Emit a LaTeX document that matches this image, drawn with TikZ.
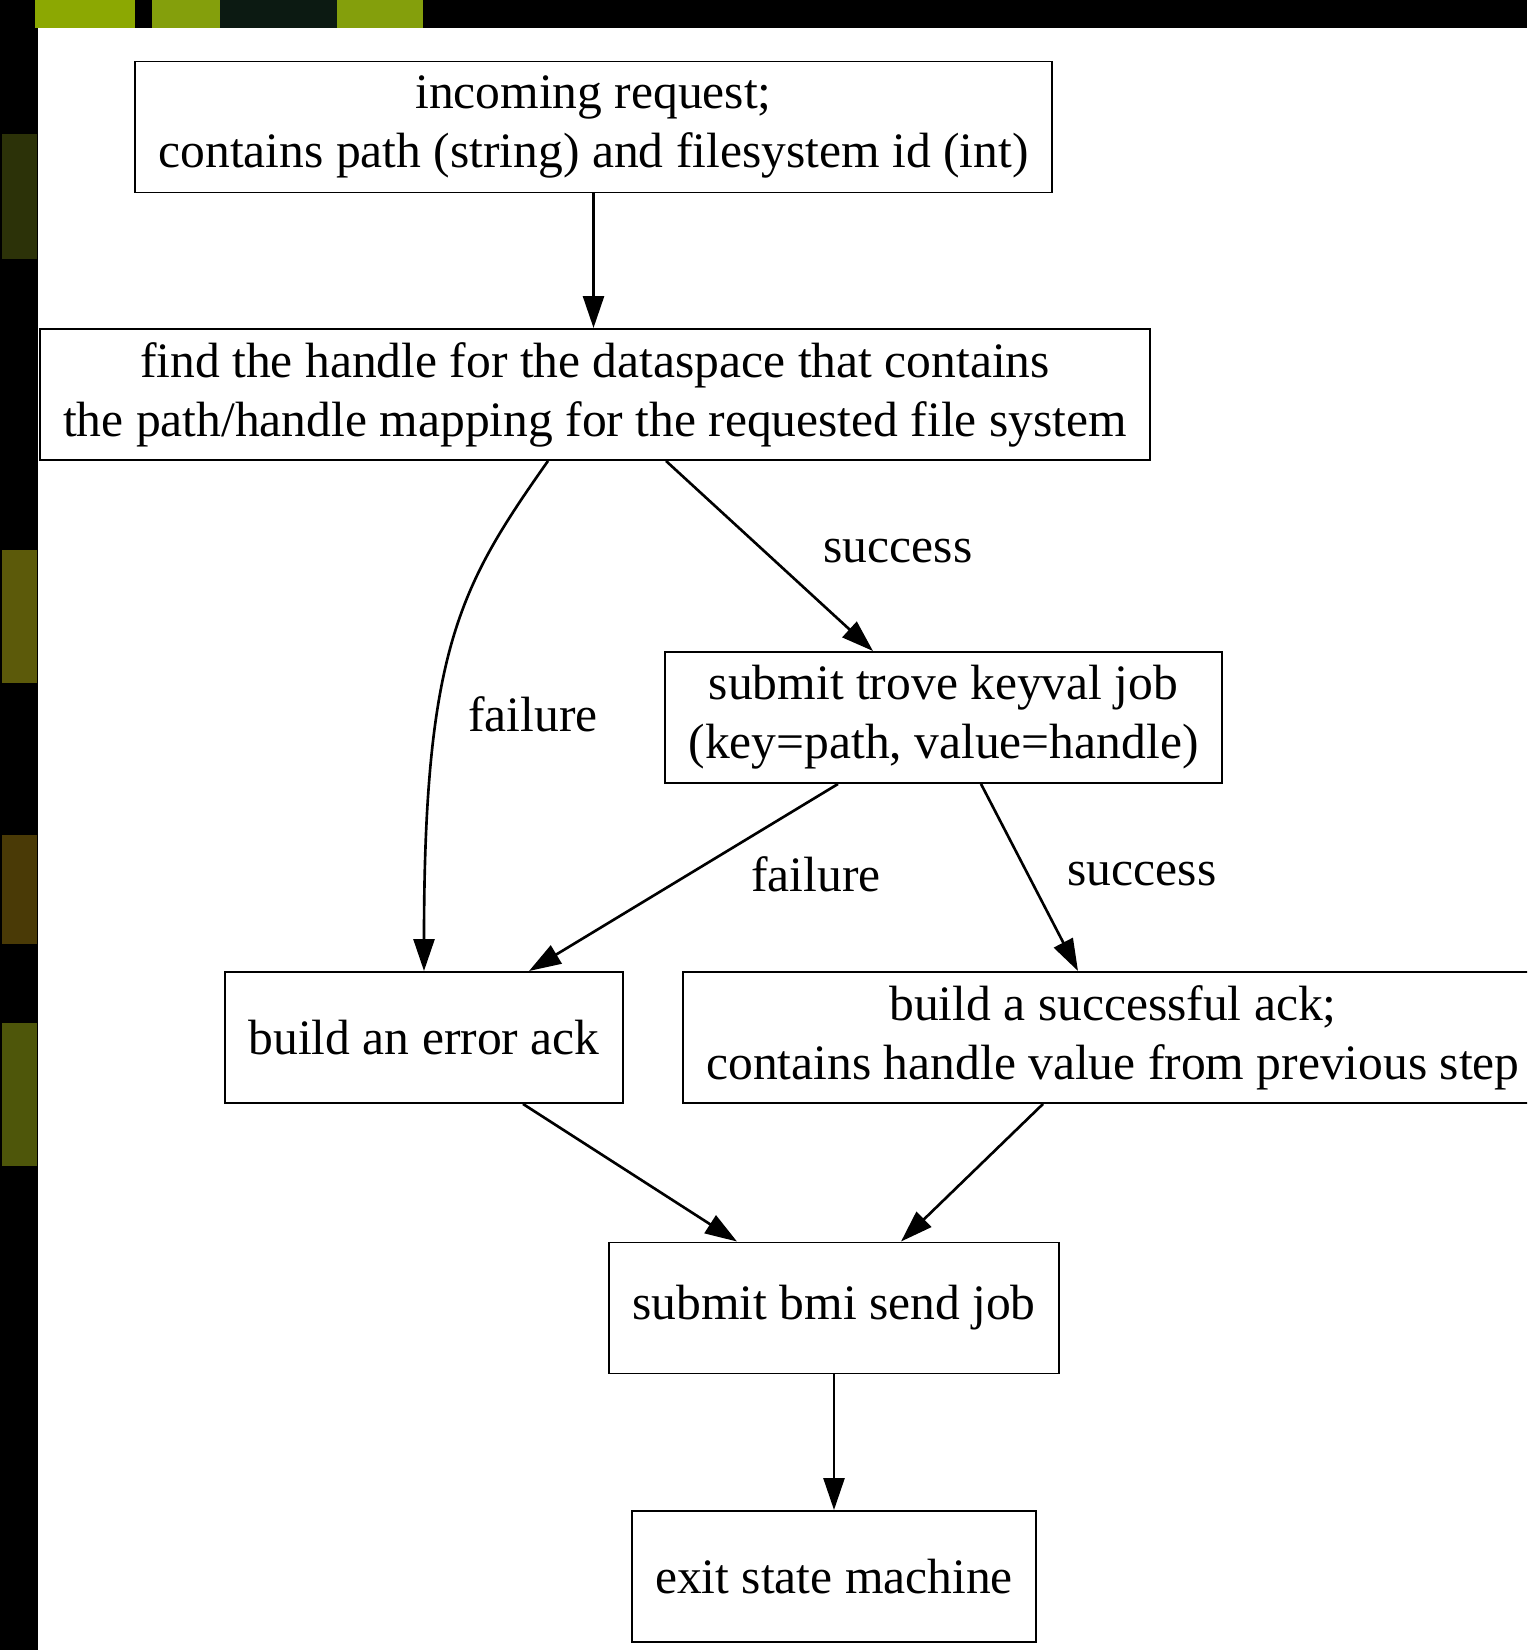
\documentclass[tikz,border=0pt]{standalone}
\usepackage{fontspec}
\setmainfont{Liberation Serif}
\usetikzlibrary{arrows.meta,positioning}
\definecolor{Lime}{HTML}{8CA802}
\definecolor{LimeDull}{HTML}{849F0C}
\definecolor{Pine}{HTML}{0C1A12}
\definecolor{OliveDark}{HTML}{2C3208}
\definecolor{Olive}{HTML}{5C5A0A}
\definecolor{Ochre}{HTML}{4A3A06}
\definecolor{Moss}{HTML}{4E560A}

\begin{document}
\begin{tikzpicture}[font=\fontsize{28.2}{33.6}\selectfont,>={Triangle[length=0.64cm,width=0.42cm]},
  box/.style={draw,line width=1.1pt,rectangle,align=center,minimum height=2.62cm,
    inner xsep=0.47cm,inner ysep=0.1cm},
  flow/.style={->,line width=1.5pt},
  elabel/.style={inner sep=0pt}]
  \clip (0,0) rectangle (30.54,33.00);

  % slide frame: dark border with coloured strips
  \fill[black] (0,0) rectangle (30.54,33.00);
  \fill[white] (0.76,0) rectangle (30.54,32.44);
  \fill[Lime] (0.70,32.44) rectangle (2.70,33.00);
  \fill[LimeDull] (3.04,32.44) rectangle (4.40,33.00);
  \fill[Pine] (4.40,32.44) rectangle (6.74,33.00);
  \fill[LimeDull] (6.74,32.44) rectangle (8.46,33.00);
  \fill[OliveDark] (0.04,27.82) rectangle (0.74,30.32);
  \fill[Olive] (0.04,19.34) rectangle (0.74,22.00);
  \fill[Ochre] (0.04,14.12) rectangle (0.74,16.30);
  \fill[Moss] (0.04,9.68) rectangle (0.74,12.54);

  % states
  \node[box] (inreq) at (11.87,30.46) {incoming request;\\contains path (string) and filesystem id (int)};
  \node[box] (findh) at (11.90,25.11) {find the handle for the dataspace that contains\\the path/handle mapping for the requested file system};
  \node[box] (trove) at (18.87,18.65) {submit trove keyval job\\(key=path, value=handle)};
  \node[box] (errack) at (8.48,12.25) {build an error ack};
  \node[box] (okack) at (22.26,12.25) {build a successful ack;\\contains handle value from previous step};
  \node[box] (bmisend) at (16.68,6.84) {submit bmi send job};
  \node[box] (exitsm) at (16.68,1.47) {exit state machine};

  % transitions
  \draw[flow] (inreq.south) -- (inreq.south |- findh.north);
  \draw[flow] ([xshift=-0.94cm]findh.south) .. controls +(-1.76,-2.5) and +(0,6.44) .. (errack.north);
  \draw[flow] ([xshift=1.42cm]findh.south) -- ([xshift=-1.41cm]trove.north);
  \draw[flow] ([xshift=-2.11cm]trove.south) -- ([xshift=2.10cm]errack.north);
  \draw[flow] ([xshift=0.75cm]trove.south) -- ([xshift=-0.70cm]okack.north);
  \draw[flow] ([xshift=1.98cm]errack.south) -- ([xshift=-1.94cm]bmisend.north);
  \draw[flow] ([xshift=-1.40cm]okack.south) -- ([xshift=1.34cm]bmisend.north);
  \draw[flow] (bmisend.south) -- (exitsm.north);

  \node[elabel] (lfail1) at (10.66,18.72) {failure};
  \node[elabel] (lsucc1) at (17.96,21.98) {success};
  \node[elabel] (lfail2) at (16.32,15.52) {failure};
  \node[elabel] (lsucc2) at (22.84,15.52) {success};
\end{tikzpicture}
\end{document}
